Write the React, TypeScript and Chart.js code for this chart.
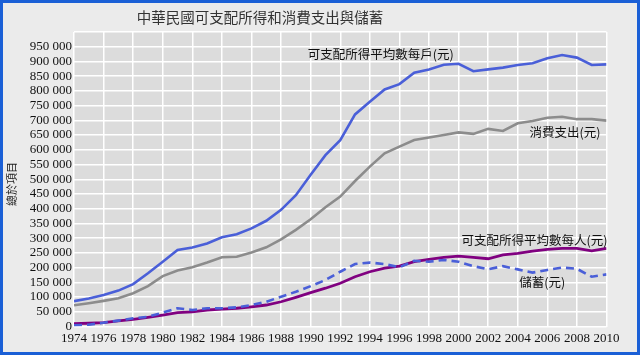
import React, { useEffect, useRef } from "react";
import { Chart, registerables } from "chart.js";

Chart.register(...registerables);

const years = [1974, 1975, 1976, 1977, 1978, 1979, 1980, 1981, 1982, 1983, 1984, 1985, 1986, 1987, 1988, 1989, 1990, 1991, 1992, 1993, 1994, 1995, 1996, 1997, 1998, 1999, 2000, 2001, 2002, 2003, 2004, 2005, 2006, 2007, 2008, 2009, 2010];

const incomePerHousehold = [86000, 95000, 107000, 122000, 144000, 181000, 220000, 260000, 268000, 282000, 303000, 313000, 333000, 359000, 396000, 446000, 515000, 582000, 633000, 720000, 763000, 805000, 823000, 862000, 873000, 889000, 892000, 867000, 873000, 879000, 888000, 894000, 911000, 922000, 913000, 888000, 890000];

const consumption = [72000, 79000, 87000, 96000, 113000, 137000, 171000, 190000, 201000, 217000, 235000, 237000, 251000, 269000, 296000, 328000, 364000, 405000, 441000, 494000, 543000, 588000, 611000, 633000, 642000, 650000, 659000, 654000, 671000, 664000, 690000, 698000, 709000, 712000, 704000, 704000, 699000];

const incomePerPerson = [10000, 11000, 13000, 19000, 24000, 31000, 39000, 47000, 50000, 56000, 59000, 62000, 67000, 73000, 84000, 99000, 115000, 130000, 147000, 169000, 186000, 198000, 205000, 220000, 228000, 235000, 239000, 235000, 230000, 243000, 248000, 256000, 262000, 265000, 265000, 257000, 265000];

const savings = [4000, 6000, 13000, 20000, 28000, 33000, 47000, 62000, 56000, 62000, 62000, 65000, 73000, 84000, 101000, 118000, 137000, 158000, 186000, 212000, 217000, 212000, 201000, 223000, 220000, 226000, 220000, 205000, 194000, 205000, 194000, 183000, 192000, 200000, 196000, 169000, 177000];

const titleText = "中華民國可支配所得和消費支出與儲蓄";
const yTitleText = "總於項目";
const labelHousehold = "可支配所得平均數每戶(元)";
const labelConsumption = "消費支出(元)";
const labelPerson = "可支配所得平均數每人(元)";
const labelSavings = "儲蓄(元)";

const BLUE = "#4a5fd8";
const GRAY = "#8c8c8c";
const PURPLE = "#800080";
const CJK = '"Noto Sans CJK TC", "Noto Sans", sans-serif';
const NUM = '"Liberation Serif", "DejaVu Serif", serif';

const toPts = (arr: number[]) => arr.map((v, i) => ({ x: years[i], y: v }));

function fmt(v: number): string {
  const s = Math.round(v).toString();
  return s.replace(/\B(?=(\d{3})+(?!\d))/g, " ");
}

const decorPlugin = {
  id: "decor",
  beforeDraw(chart: any) {
    const { ctx, chartArea } = chart;
    ctx.save();
    ctx.fillStyle = "#dcdcdc";
    ctx.fillRect(chartArea.left, chartArea.top, chartArea.right - chartArea.left, chartArea.bottom - chartArea.top);
    ctx.restore();
  },
  afterDraw(chart: any) {
    const { ctx, scales } = chart;
    const xs = scales.x;
    const ys = scales.y;
    ctx.save();
    ctx.fillStyle = "#333";
    ctx.font = `14.5px ${CJK}`;
    ctx.textAlign = "center";
    ctx.textBaseline = "middle";
    ctx.fillText(titleText, 257, 14.5);
    ctx.save();
    ctx.translate(9, 181);
    ctx.rotate(-Math.PI / 2);
    ctx.font = `11px ${CJK}`;
    ctx.fillStyle = "#222";
    ctx.fillText(yTitleText, 0, 0);
    ctx.restore();
    ctx.font = `12.5px ${CJK}`;
    ctx.fillStyle = "#111";
    ctx.textAlign = "left";
    ctx.textBaseline = "middle";
    const notes: [string, number, number][] = [
      [labelHousehold, 1989.8, 925000],
      [labelConsumption, 2004.8, 661000],
      [labelPerson, 2000.2, 294000],
      [labelSavings, 2004.1, 151000],
    ];
    for (const [t, x, y] of notes) {
      ctx.fillText(t, xs.getPixelForValue(x), ys.getPixelForValue(y));
    }
    ctx.restore();
  },
};

export default function App() {
  const ref = useRef<HTMLCanvasElement | null>(null);
  useEffect(() => {
    if (!ref.current) return;
    const chart = new Chart(ref.current, {
      type: "line",
      data: {
        datasets: [
          { label: labelHousehold, data: toPts(incomePerHousehold), borderColor: BLUE, borderWidth: 2.6, pointRadius: 0, fill: false },
          { label: labelConsumption, data: toPts(consumption), borderColor: GRAY, borderWidth: 2.6, pointRadius: 0, fill: false },
          { label: labelSavings, data: toPts(savings), borderColor: BLUE, borderWidth: 2.6, borderDash: [8, 5], pointRadius: 0, fill: false },
          { label: labelPerson, data: toPts(incomePerPerson), borderColor: PURPLE, borderWidth: 2.8, pointRadius: 0, fill: false },
        ],
      },
      options: {
        animation: false,
        responsive: false,
        maintainAspectRatio: false,
        layout: { padding: { left: 0, right: 30.5, top: 29, bottom: 0 } },
        plugins: { legend: { display: false }, tooltip: { enabled: false }, title: { display: false } },
        scales: {
          x: {
            type: "linear",
            min: 1974,
            max: 2010,
            border: { display: false },
            grid: { color: "#ffffff", lineWidth: 1.5, drawTicks: false },
            ticks: {
              stepSize: 2,
              autoSkip: false,
              maxRotation: 0,
              padding: 4,
              color: "#111",
              font: { family: NUM, size: 13 },
              callback: (v: any) => String(v),
            },
            afterFit: (s: any) => {
              s.height = 25.5;
            },
          },
          y: {
            type: "linear",
            min: 0,
            max: 1000000,
            border: { display: false },
            grid: { color: "#ffffff", lineWidth: 1.5, drawTicks: false },
            ticks: {
              stepSize: 50000,
              autoSkip: false,
              padding: 2,
              color: "#111",
              font: { family: NUM, size: 13 },
              callback: (v: any) => (v >= 1000000 ? "" : fmt(Number(v))),
            },
            afterFit: (s: any) => {
              s.width = 71;
            },
          },
        },
      },
      plugins: [decorPlugin],
    });
    return () => chart.destroy();
  }, []);
  return (
    <div
      style={{
        position: "absolute",
        left: 0,
        top: 0,
        width: 640,
        height: 355,
        boxSizing: "border-box",
        border: "3px solid #1a5fd6",
        background: "#ebebeb",
      }}
    >
      <canvas ref={ref} width={634} height={349} style={{ display: "block", width: 634, height: 349 }} />
    </div>
  );
}
